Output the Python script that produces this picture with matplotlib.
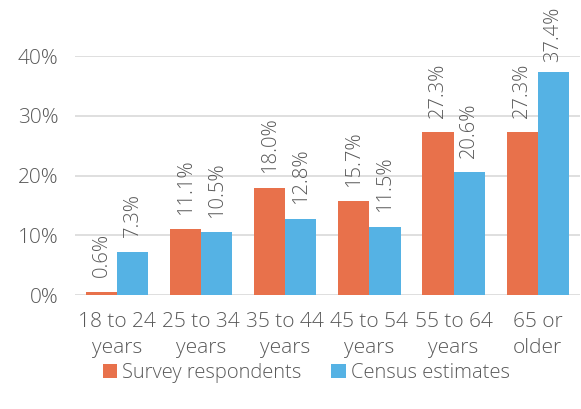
import numpy as np
import matplotlib
matplotlib.use('Agg')
import matplotlib.pyplot as plt

categories = ['18 to 24\nyears', '25 to 34\nyears', '35 to 44\nyears',
              '45 to 54\nyears', '55 to 64\nyears', '65 or\nolder']
survey = [0.6, 11.1, 18.0, 15.7, 27.3, 27.3]
census = [7.3, 10.5, 12.8, 11.5, 20.6, 37.4]
yticks = [0, 10, 20, 30, 40]

ORANGE = '#E8714B'
BLUE = '#55B2E4'
GREY = '#595959'

plt.rcParams['font.family'] = ['Open Sans', 'DejaVu Sans']
plt.rcParams['font.weight'] = 'light'

fig = plt.figure(figsize=(5.81, 4.09), dpi=100)
ax = fig.add_axes([0.129, 0.278, 0.869, 0.585])

x = np.arange(len(categories))
w = 0.37
b1 = ax.bar(x - w / 2, survey, w, color=ORANGE, label='Survey respondents', zorder=3)
b2 = ax.bar(x + w / 2, census, w, color=BLUE, label='Census estimates', zorder=3)

# labels sit above the bars, but get pushed down where they'd run off the top
for bars, vals in ((b1, survey), (b2, census)):
    for r, v in zip(bars, vals):
        ax.text(r.get_x() + r.get_width() / 2, min(v + 2.4, 39.0), f'{v:.1f}%',
                rotation=90, ha='center', va='bottom', fontsize=14.5, color=GREY,
                clip_on=False)

ax.set_xlim(-0.5, len(categories) - 0.5)
ax.set_ylim(0, 40)
ax.set_yticks(yticks)
ax.set_yticklabels([f'{t}%' for t in yticks])
ax.set_xticks(x)
ax.set_xticklabels(categories)
ax.grid(axis='y', color='#D9D9D9', linewidth=1.2, zorder=0)
for s in ax.spines.values():
    s.set_visible(False)
ax.tick_params(axis='both', length=0, labelsize=15, labelcolor=GREY)
ax.tick_params(axis='x', pad=12)
ax.tick_params(axis='y', pad=12)
for lab in ax.get_xticklabels():
    lab.set_linespacing(1.4)

fig.legend(loc='lower center', bbox_to_anchor=(0.527, 0.02), ncol=2, frameon=False,
           fontsize=14.5, labelcolor=GREY, handlelength=0.7, handleheight=0.7,
           handletextpad=0.25, columnspacing=1.5)

fig.savefig('out.png', dpi=100)
